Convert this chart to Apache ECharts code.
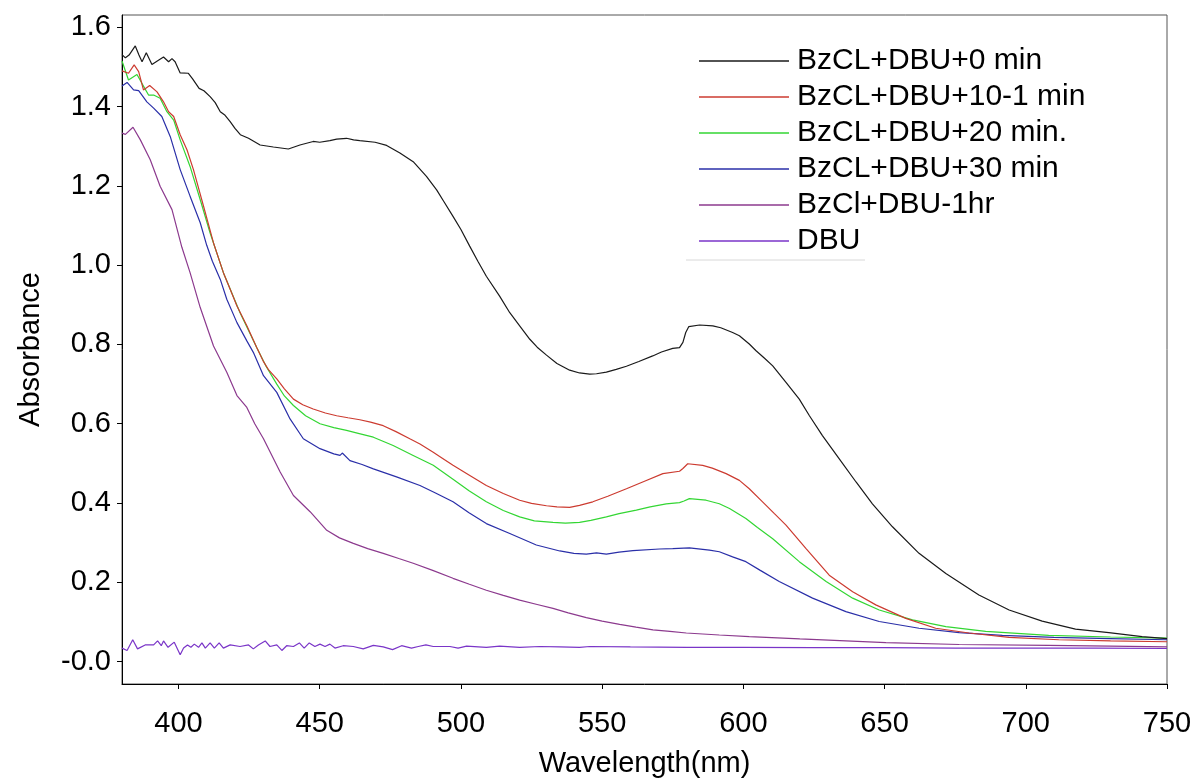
<!DOCTYPE html>
<html>
<head>
<meta charset="utf-8">
<script src="https://cdn.jsdelivr.net/npm/echarts@6/dist/echarts.min.js"></script>
<style>
html,body{margin:0;padding:0;background:#fff;}
#c{width:1197px;height:783px;}
</style>
</head>
<body>
<div id="c"></div>
<script>
// ---- Data ----
const seriesNames = ['BzCL+DBU+0 min','BzCL+DBU+10-1 min','BzCL+DBU+20 min.','BzCL+DBU+30 min','BzCl+DBU-1hr','DBU'];
const xTicks = [400,450,500,550,600,650,700,750];
const yTicks = [0,0.2,0.4,0.6,0.8,1.0,1.2,1.4,1.6];

const wl0 = [380,381.2,382.5,384.7,386,387.1,388.6,390.6,392.5,394.7,396.5,397.7,398.8,400.6,403.5,405,407.3,409,411.2,413,414.8,416.5,418.3,420,421.9,424.8,428.9,433.6,438.9,443,447.7,450,453.6,456,459.5,462,464.2,469.6,473.7,478.4,483.1,487.8,491.4,494,497.2,500,503.1,506,509,513.7,517.3,521,524.4,527,530.3,534,538.5,542,545.6,548,551.5,555,558.6,563,567.9,571,575,577.4,578.6,579.6,580.7,584.5,589.2,592,596.2,598.6,602.1,604.5,607.5,610.4,615.1,619.8,623.4,628,633.9,639.9,645.7,652.8,662.2,671.7,683.4,694.1,705.8,717.6,729.4,741.2,750];
const abs0 = [1.531,1.523,1.530,1.553,1.530,1.513,1.536,1.506,1.515,1.525,1.513,1.521,1.513,1.485,1.484,1.470,1.446,1.440,1.425,1.410,1.387,1.378,1.362,1.345,1.329,1.320,1.303,1.298,1.293,1.303,1.312,1.310,1.314,1.318,1.320,1.316,1.314,1.310,1.302,1.283,1.261,1.224,1.190,1.160,1.123,1.090,1.048,1.010,0.972,0.922,0.880,0.845,0.813,0.793,0.773,0.752,0.735,0.728,0.725,0.726,0.730,0.737,0.745,0.757,0.771,0.781,0.790,0.792,0.805,0.830,0.845,0.849,0.847,0.842,0.830,0.822,0.801,0.784,0.765,0.746,0.704,0.662,0.620,0.570,0.512,0.453,0.398,0.340,0.273,0.222,0.168,0.130,0.102,0.082,0.073,0.063,0.058];

const wl10 = [380,382.3,384.3,385.9,387.6,389.8,392.4,394.7,396.5,398.3,400.6,403,405.3,408.9,412.4,415.9,418.3,420.7,424.2,427.7,430,432,434.8,437.5,440.7,444,447.7,452,456,460,464.2,468,472.5,477,481.9,485.5,490.2,493,497.2,503,509,515,520.8,525,530.3,534,538.5,542,546.7,552,558.6,565,571.5,577.4,578.6,580.3,585.6,589,593.9,598.6,602.1,606.8,611,615.1,622.2,630.4,638.7,646.9,657.5,668.1,679.9,694.1,711.7,730,750];
const abs10 = [1.490,1.484,1.505,1.488,1.442,1.453,1.437,1.412,1.387,1.375,1.329,1.291,1.241,1.148,1.056,0.981,0.939,0.897,0.847,0.792,0.758,0.735,0.713,0.688,0.662,0.648,0.637,0.627,0.620,0.615,0.610,0.604,0.595,0.580,0.562,0.549,0.528,0.515,0.495,0.470,0.444,0.424,0.407,0.399,0.393,0.390,0.389,0.394,0.403,0.417,0.436,0.455,0.474,0.480,0.487,0.499,0.495,0.488,0.474,0.457,0.436,0.403,0.373,0.344,0.285,0.218,0.176,0.143,0.109,0.084,0.072,0.061,0.055,0.052,0.050];

const wl20 = [380,382.3,385.3,387.1,389.4,391.2,393.5,395.9,398.3,400.6,404.1,407.7,411.2,415.9,421.8,427.7,431,434.8,437.5,440.7,445,450.1,455,459.5,464,469,476,483.1,490.2,497.2,503,509,515,520.8,526,532.6,537,542,546,551.5,556,562.1,567,572.7,577.4,579,580.9,586.8,591.5,595.1,600.9,605,610.4,619.8,629.3,638.7,648.1,659.9,671.7,685.8,708.1,730,750];
const abs20 = [1.515,1.467,1.481,1.458,1.429,1.429,1.421,1.387,1.366,1.316,1.249,1.165,1.081,0.981,0.880,0.792,0.745,0.700,0.670,0.646,0.620,0.600,0.590,0.583,0.575,0.566,0.545,0.520,0.495,0.460,0.430,0.403,0.381,0.365,0.355,0.351,0.349,0.351,0.356,0.365,0.373,0.382,0.390,0.398,0.401,0.405,0.411,0.407,0.398,0.386,0.361,0.338,0.310,0.252,0.202,0.160,0.130,0.105,0.088,0.076,0.066,0.062,0.059];

const wl30 = [380,381.8,384.1,385.9,388.8,391.2,394.1,397.1,400.6,404.1,407.7,410,412,414.8,417.1,420.7,424.2,426.5,430.1,434.8,439.5,444.2,450.1,455,457.2,458,460.7,465,469,477.2,485.5,491,497.2,503,509,517.3,526.7,535,540,544.4,548,551.5,556,560.9,570.3,575,580.9,588,591.5,596.2,600.9,606,612.7,624.5,636.3,648.1,662.2,676.4,691.7,710,730,750];
const abs30 = [1.452,1.461,1.442,1.440,1.412,1.396,1.375,1.324,1.241,1.174,1.107,1.050,1.010,0.964,0.914,0.855,0.809,0.780,0.721,0.679,0.612,0.562,0.537,0.524,0.520,0.526,0.507,0.497,0.486,0.466,0.444,0.425,0.403,0.375,0.348,0.323,0.294,0.279,0.273,0.271,0.274,0.271,0.276,0.280,0.284,0.285,0.287,0.281,0.277,0.264,0.252,0.230,0.202,0.160,0.126,0.101,0.084,0.073,0.066,0.061,0.058,0.055];

const wl60 = [380,381.2,383.9,386.5,390,393.5,397.7,401.2,404.1,407.7,411,412.4,417.1,420.7,424.2,427,430.1,436,440.7,446.6,452.5,457,461.9,467,472.5,478,483.1,490,497.2,503,509,515,520.8,527,532.6,538,544.4,550,556.2,562,568,574,579.8,591.5,602.1,620,650.5,676.4,708,730,750];
const abs60 = [1.333,1.330,1.348,1.316,1.266,1.199,1.140,1.045,0.981,0.893,0.825,0.796,0.730,0.671,0.641,0.600,0.562,0.478,0.419,0.378,0.331,0.312,0.298,0.285,0.273,0.260,0.248,0.230,0.210,0.195,0.180,0.167,0.155,0.144,0.134,0.123,0.111,0.102,0.094,0.087,0.080,0.076,0.072,0.067,0.063,0.057,0.048,0.043,0.041,0.039,0.037];

const wlDBU = [380,381.8,383.8,385.5,388.2,391.2,392.6,393.9,394.7,396.3,398.5,400.6,401.8,403.2,404.4,405.6,407.1,408.3,409.5,411.2,412.7,414.4,415.9,418.3,421.8,424.8,426.5,428.3,430.7,432.4,434.8,436.6,438.3,440.7,442.8,444.5,446.3,448.3,450.1,451.9,453.6,455.4,458.3,461.9,465.4,469,472.5,475.8,479,482.5,484.9,487.6,490.2,496.1,499,502,509,513.7,520.8,527.9,535,542,545.6,560,580,600,625,650,675,700,725,750];
const absDBU = [0.034,0.028,0.055,0.032,0.042,0.042,0.052,0.040,0.052,0.036,0.049,0.017,0.034,0.042,0.036,0.044,0.036,0.047,0.034,0.047,0.034,0.047,0.034,0.042,0.038,0.042,0.032,0.042,0.052,0.038,0.042,0.028,0.040,0.038,0.047,0.034,0.047,0.038,0.044,0.038,0.044,0.034,0.040,0.038,0.032,0.041,0.037,0.030,0.040,0.034,0.038,0.042,0.038,0.038,0.034,0.039,0.036,0.039,0.036,0.038,0.037,0.036,0.038,0.037,0.036,0.036,0.035,0.035,0.034,0.034,0.034,0.033];

const colors = ['#1a1a1a','#cc3b30','#33d633','#2a2fa8','#8c3a8e','#7a35c8'];

// ---- Build ----
function pairs(xs, ys){ return xs.map((x,i)=>[x, ys[i]]); }
const allData = [pairs(wl0,abs0),pairs(wl10,abs10),pairs(wl20,abs20),pairs(wl30,abs30),pairs(wl60,abs60),pairs(wlDBU,absDBU)];

const FONT = 'Liberation Sans, Arial, sans-serif';
const chart = echarts.init(document.getElementById('c'), null, {renderer:'canvas'});
chart.setOption({
  animation:false,
  backgroundColor:'#ffffff',
  grid:{left:122, top:15, right:30, bottom:97, show:true, borderColor:'#555', borderWidth:1, containLabel:false},
  legend:{
    data:seriesNames.map(n=>({name:n, icon:'rect'})),
    orient:'vertical',
    left:699, top:43,
    padding:0,
    itemWidth:90, itemHeight:1.3, itemGap:0,
    textStyle:{fontFamily:FONT, fontSize:30, color:'#000', lineHeight:36, padding:[0,0,0,3]}
  },
  xAxis:{
    type:'value', min:380, max:750,
    name:'Wavelength(nm)', nameLocation:'middle', nameGap:65,
    nameTextStyle:{fontFamily:FONT, fontSize:29, color:'#000'},
    axisLine:{show:true, onZero:false, lineStyle:{color:'#000', width:1}},
    axisTick:{show:true, length:5, inside:false, customValues:xTicks, lineStyle:{color:'#000'}},
    axisLabel:{fontFamily:FONT, fontSize:29, color:'#000', margin:25, customValues:xTicks},
    splitLine:{show:false}
  },
  yAxis:{
    type:'value', min:-0.0566, max:1.631,
    name:'Absorbance', nameLocation:'middle', nameGap:77,
    nameTextStyle:{fontFamily:FONT, fontSize:29, color:'#000'},
    axisLine:{show:true, onZero:false, lineStyle:{color:'#000', width:1}},
    axisTick:{show:true, length:5, inside:false, customValues:yTicks, lineStyle:{color:'#000'}},
    axisLabel:{fontFamily:FONT, fontSize:29, color:'#000', margin:11, customValues:yTicks,
      formatter:function(v){ return Math.abs(v)<1e-9 ? '-0.0' : v.toFixed(1); }},
    splitLine:{show:false}
  },
  graphic:[{type:'line', shape:{x1:686,y1:260,x2:865,y2:260}, style:{stroke:'#d8d8d8', lineWidth:1}, z:10}],
  series: allData.map((d,i)=>({
    name:seriesNames[i], type:'line', data:d, symbol:'none', smooth:false,
    lineStyle:{color:colors[i], width:1.2}, itemStyle:{color:colors[i]},
    z: 10-i
  }))
});
</script>
</body>
</html>
